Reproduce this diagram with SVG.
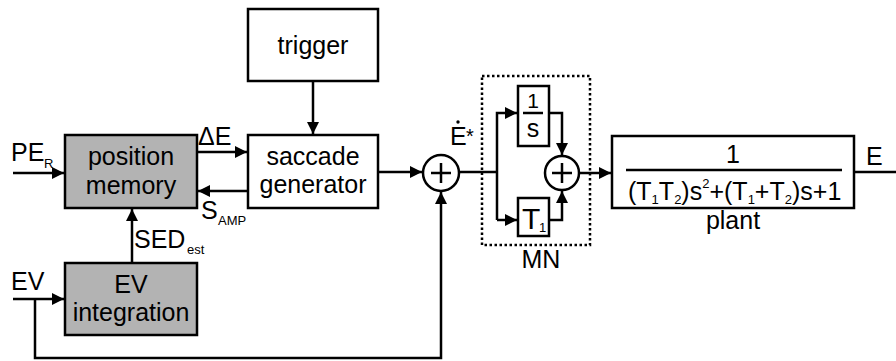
<svg xmlns="http://www.w3.org/2000/svg" width="896" height="361" viewBox="0 0 896 361">
<style>
.box{fill:#fff;stroke:#000;stroke-width:2.5}
.gray{fill:#b3b3b3;stroke:#000;stroke-width:2.5}
.ln{fill:none;stroke:#000;stroke-width:2.5}
.t{font-family:"Liberation Sans",Arial,sans-serif;font-size:25px;fill:#000}
.c{text-anchor:middle}
.sub{font-family:"Liberation Sans",Arial,sans-serif;font-size:13px;fill:#000}
</style>
<defs>
<marker id="ah" viewBox="0 0 10 10" refX="10" refY="5" markerWidth="12" markerHeight="12" markerUnits="userSpaceOnUse" orient="auto">
<path d="M0,0 L10,5 L0,10 Z" fill="#000"/>
</marker>
</defs>
<rect width="896" height="361" fill="#fff"/>
<g id="connectors">
<path class="ln" d="M13,173 H64" marker-end="url(#ah)"/>
<path class="ln" d="M198,152 H247" marker-end="url(#ah)"/>
<path class="ln" d="M247,191 H198" marker-end="url(#ah)"/>
<path class="ln" d="M313,81 V134" marker-end="url(#ah)"/>
<path class="ln" d="M378,172 H422" marker-end="url(#ah)"/>
<path class="ln" d="M459,172 H497"/>
<path class="ln" d="M497,220 V113 H517" marker-end="url(#ah)"/>
<path class="ln" d="M497,220 H517" marker-end="url(#ah)"/>
<path class="ln" d="M549,113 H562 V155" marker-end="url(#ah)"/>
<path class="ln" d="M549,220 H562 V191" marker-end="url(#ah)"/>
<path class="ln" d="M579,173 H611" marker-end="url(#ah)"/>
<path class="ln" d="M854,172 H896"/>
<path class="ln" d="M13,299 H64" marker-end="url(#ah)"/>
<path class="ln" d="M35,299 V358 H441 V192" marker-end="url(#ah)"/>
<path class="ln" d="M132,263 V209" marker-end="url(#ah)"/>
</g>
<g id="labels">
<text class="t" x="11" y="161">PE</text><text class="sub" x="44" y="168">R</text>
<text class="t" x="198" y="145">ΔE</text>
<text class="t" x="201" y="219">S</text><text class="sub" x="218" y="225">AMP</text>
<text class="t" x="134" y="248">SED</text><text class="sub" x="187" y="254">est</text>
<text class="t" x="11" y="290">EV</text>
<text class="t" x="450" y="145">E</text><circle cx="458" cy="122" r="1.7" fill="#000"/><text class="t" x="466" y="145" style="font-size:20px" dy="-2">*</text>
<text class="t" x="866" y="165">E</text>
</g>
<g id="position-memory">
<rect class="gray" x="65" y="135" width="132" height="73"/>
<text class="t c" x="131" y="165">position</text>
<text class="t c" x="131" y="194">memory</text>
</g>
<g id="ev-integration">
<rect class="gray" x="65" y="263" width="132" height="72"/>
<text class="t c" x="131" y="293">EV</text>
<text class="t c" x="131" y="321">integration</text>
</g>
<g id="trigger">
<rect class="box" x="248" y="9" width="130" height="72"/>
<text class="t c" x="313" y="54">trigger</text>
</g>
<g id="saccade-generator">
<rect class="box" x="248" y="135" width="130" height="73"/>
<text class="t c" x="313" y="165">saccade</text>
<text class="t c" x="313" y="193">generator</text>
</g>
<g id="sum1">
<circle class="box" cx="441" cy="173" r="18"/>
<path class="ln" d="M431,173 H451 M441,163 V183"/>
</g>
<g id="MN">
<rect x="482" y="76" width="108" height="169" fill="none" stroke="#000" stroke-width="2.5" stroke-dasharray="2.5,2.5"/>
<text class="t c" x="541" y="268">MN</text>
</g>
<g id="integrator">
<rect class="box" x="518" y="86" width="31" height="60"/>
<text class="t c" x="533" y="108" style="font-size:21px">1</text>
<path class="ln" d="M523,113 H543"/>
<text class="t c" x="533" y="137">s</text>
</g>
<g id="gain-T1">
<rect class="box" x="518" y="198" width="31" height="38"/>
<text class="t" x="522" y="229" style="font-size:30px">T</text><text class="sub" x="539" y="232">1</text>
</g>
<g id="sum2">
<circle class="box" cx="562" cy="173" r="17"/>
<path class="ln" d="M552,173 H572 M562,163 V183"/>
</g>
<g id="plant">
<rect class="box" x="612" y="136" width="242" height="72"/>
<text class="t c" x="733" y="163">1</text>
<path class="ln" d="M626,170 H842"/>
<text class="t" x="628" y="200">(T<tspan class="sub" dy="4">1</tspan><tspan dy="-4">T</tspan><tspan class="sub" dy="4">2</tspan><tspan dy="-4">)s</tspan><tspan class="sub" dy="-12">2</tspan><tspan dy="12">+(T</tspan><tspan class="sub" dy="4">1</tspan><tspan dy="-4">+T</tspan><tspan class="sub" dy="4">2</tspan><tspan dy="-4">)s+1</tspan></text>
<text class="t c" x="733" y="229">plant</text>
</g>
</svg>
